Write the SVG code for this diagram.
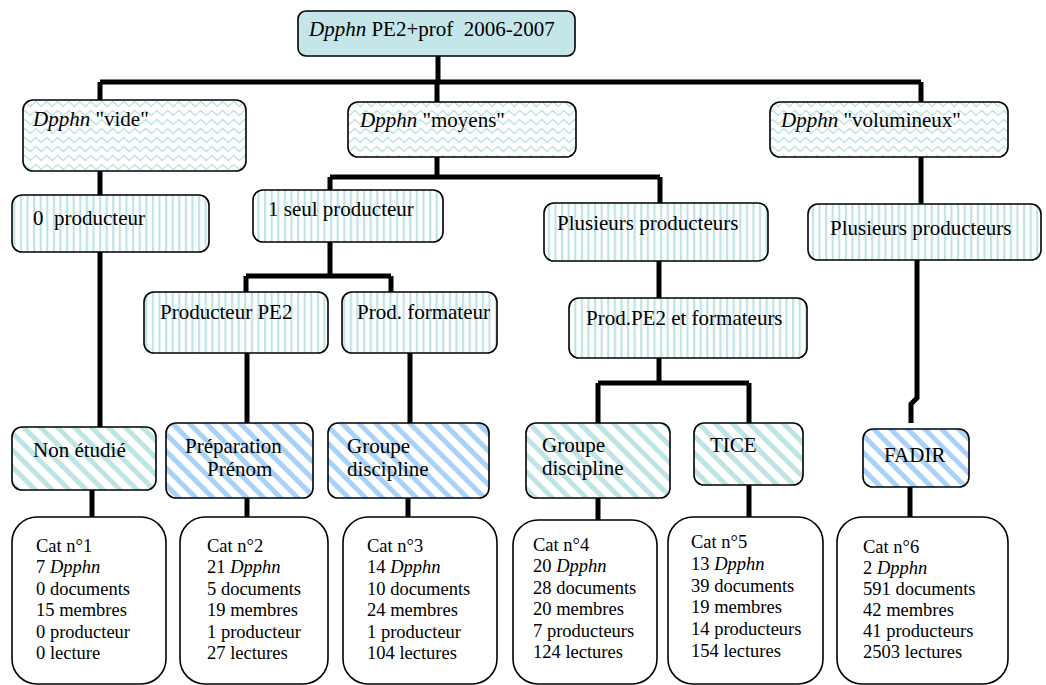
<svg xmlns="http://www.w3.org/2000/svg" width="1046" height="685" viewBox="0 0 1046 685" font-family="'Liberation Serif', 'Times New Roman', serif">
<style>
text{font-family:'Liberation Serif','Times New Roman',serif;fill:#000}
.t{font-size:21px}
.s{font-size:18.5px}
.box{stroke:#000;stroke-width:1.6}
.conn{stroke:#000;stroke-width:5;fill:none;stroke-linecap:butt;stroke-linejoin:miter}
</style>
<defs>
<pattern id="wave" patternUnits="userSpaceOnUse" width="11" height="9">
<rect width="11" height="9" fill="#fff"/>
<polyline points="0,5 2.75,2.5 5.5,5 8.25,7.5 11,5" fill="none" stroke="#bfe3e6" stroke-width="1.5"/>
</pattern>
<pattern id="vstripe" patternUnits="userSpaceOnUse" width="6.6" height="10">
<rect width="6.6" height="10" fill="#fff"/>
<rect x="0" width="2.2" height="10" fill="#bfe3e6"/>
</pattern>
<pattern id="dteal" patternUnits="userSpaceOnUse" width="12" height="12" patternTransform="rotate(-45)">
<rect width="12" height="12" fill="#fff"/>
<rect width="5" height="12" fill="#bfe4e6"/>
</pattern>
<pattern id="dblue" patternUnits="userSpaceOnUse" width="12" height="12" patternTransform="rotate(-45)">
<rect width="12" height="12" fill="#fff"/>
<rect width="5" height="12" fill="#a9d2fa"/>
</pattern>
</defs>
<rect width="1046" height="685" fill="#fff"/>

<g id="connectors" class="conn">
<path d="M438 56V82M100 82H921M100 82V100M437 82V102M921 82V102"/>
<path d="M100 171V195M100 252V427M92 490V517"/>
<path d="M437 157V177M330 177H660M330 177V190M660 177V203"/>
<path d="M330 242V276M246 276H391M246 276V292M391 276V292"/>
<path d="M247 353V423M410 353V423M247 498V517M408 498V517"/>
<path d="M659 261V298M659 358V383M598 383H749M598 383V423M749 383V423"/>
<path d="M598 498V520M749 485V517"/>
<path d="M921 157V204M917 260V398L911 404V423M910 487V517"/>
</g>

<g id="n-root"><rect class="box" x="298" y="11" width="277" height="45" rx="8" fill="#c4e6e9"/>
<text class="t" x="309" y="36"><tspan font-style="italic">Dpphn</tspan> PE2+prof&#160; 2006-2007</text></g>

<g id="n-vide"><rect class="box" x="23" y="100" width="223" height="71" rx="10" fill="url(#wave)"/>
<text class="t" x="33" y="126"><tspan font-style="italic">Dpphn</tspan> "vide"</text></g>
<g id="n-moyens"><rect class="box" x="348" y="102" width="228" height="55" rx="10" fill="url(#wave)"/>
<text class="t" x="360" y="127"><tspan font-style="italic">Dpphn</tspan> "moyens"</text></g>
<g id="n-volumineux"><rect class="box" x="770" y="102" width="238" height="55" rx="10" fill="url(#wave)"/>
<text class="t" x="781" y="127"><tspan font-style="italic">Dpphn</tspan> "volumineux"</text></g>

<g id="n-0prod"><rect class="box" x="12" y="195" width="197" height="57" rx="10" fill="url(#vstripe)"/>
<text class="t" x="33" y="225">0&#160; producteur</text></g>
<g id="n-1seul"><rect class="box" x="253" y="190" width="190" height="52" rx="10" fill="url(#vstripe)"/>
<text class="t" x="268" y="216">1 seul producteur</text></g>
<g id="n-plus-moy"><rect class="box" x="544" y="203" width="224" height="58" rx="10" fill="url(#vstripe)"/>
<text class="t" x="557" y="230">Plusieurs producteurs</text></g>
<g id="n-plus-vol"><rect class="box" x="808" y="204" width="233" height="56" rx="10" fill="url(#vstripe)"/>
<text class="t" x="830" y="235">Plusieurs producteurs</text></g>

<g id="n-prodpe2"><rect class="box" x="144" y="292" width="184" height="61" rx="10" fill="url(#vstripe)"/>
<text class="t" x="160" y="319">Producteur PE2</text></g>
<g id="n-prodform"><rect class="box" x="342" y="292" width="155" height="61" rx="10" fill="url(#vstripe)"/>
<text class="t" x="357" y="319">Prod. formateur</text></g>
<g id="n-pe2form"><rect class="box" x="569" y="298" width="238" height="60" rx="10" fill="url(#vstripe)"/>
<text class="t" x="586" y="325">Prod.PE2 et formateurs</text></g>

<g id="n-nonetudie"><rect class="box" x="12" y="427" width="144" height="63" rx="10" fill="url(#dteal)"/>
<text class="t" x="33" y="457">Non étudié</text></g>
<g id="n-prep"><rect class="box" x="166" y="423" width="147" height="75" rx="10" fill="url(#dblue)"/>
<text class="t" x="185" y="453">Préparation</text><text class="t" x="207" y="476">Prénom</text></g>
<g id="n-groupe3"><rect class="box" x="328" y="423" width="161" height="75" rx="10" fill="url(#dblue)"/>
<text class="t" x="347" y="453">Groupe</text><text class="t" x="347" y="476">discipline</text></g>
<g id="n-groupe4"><rect class="box" x="526" y="423" width="144" height="75" rx="10" fill="url(#dteal)"/>
<text class="t" x="542" y="452">Groupe</text><text class="t" x="542" y="475">discipline</text></g>
<g id="n-tice"><rect class="box" x="694" y="423" width="109" height="62" rx="10" fill="url(#dteal)"/>
<text class="t" x="710" y="452">TICE</text></g>
<g id="n-fadir"><rect class="box" x="863" y="429" width="106" height="58" rx="10" fill="url(#dblue)"/>
<text class="t" x="884" y="462">FADIR</text></g>

<g id="n-cat1"><rect class="box" x="12" y="517" width="154" height="167" rx="25" fill="#fff"/>
<text class="s" x="36" y="552">Cat n°1</text>
<text class="s" x="36" y="573.4">7 <tspan font-style="italic">Dpphn</tspan></text>
<text class="s" x="36" y="594.8">0 documents</text>
<text class="s" x="36" y="616.2">15 membres</text>
<text class="s" x="36" y="637.6">0 producteur</text>
<text class="s" x="36" y="659">0 lecture</text></g>
<g id="n-cat2"><rect class="box" x="180" y="517" width="148" height="167" rx="25" fill="#fff"/>
<text class="s" x="207" y="552">Cat n°2</text>
<text class="s" x="207" y="573.4">21 <tspan font-style="italic">Dpphn</tspan></text>
<text class="s" x="207" y="594.8">5 documents</text>
<text class="s" x="207" y="616.2">19 membres</text>
<text class="s" x="207" y="637.6">1 producteur</text>
<text class="s" x="207" y="659">27 lectures</text></g>
<g id="n-cat3"><rect class="box" x="343" y="517" width="154" height="167" rx="25" fill="#fff"/>
<text class="s" x="367" y="552">Cat n°3</text>
<text class="s" x="367" y="573.4">14 <tspan font-style="italic">Dpphn</tspan></text>
<text class="s" x="367" y="594.8">10 documents</text>
<text class="s" x="367" y="616.2">24 membres</text>
<text class="s" x="367" y="637.6">1 producteur</text>
<text class="s" x="367" y="659">104 lectures</text></g>
<g id="n-cat4"><rect class="box" x="513" y="520" width="144" height="164" rx="25" fill="#fff"/>
<text class="s" x="533" y="551">Cat n°4</text>
<text class="s" x="533" y="572.4">20 <tspan font-style="italic">Dpphn</tspan></text>
<text class="s" x="533" y="593.8">28 documents</text>
<text class="s" x="533" y="615.2">20 membres</text>
<text class="s" x="533" y="636.6">7 producteurs</text>
<text class="s" x="533" y="658">124 lectures</text></g>
<g id="n-cat5"><rect class="box" x="668" y="517" width="155" height="167" rx="25" fill="#fff"/>
<text class="s" x="691" y="548">Cat n°5</text>
<text class="s" x="691" y="569.8">13 <tspan font-style="italic">Dpphn</tspan></text>
<text class="s" x="691" y="591.6">39 documents</text>
<text class="s" x="691" y="613.4">19 membres</text>
<text class="s" x="691" y="635.2">14 producteurs</text>
<text class="s" x="691" y="657">154 lectures</text></g>
<g id="n-cat6"><rect class="box" x="837" y="517" width="171" height="167" rx="25" fill="#fff"/>
<text class="s" x="863" y="553">Cat n°6</text>
<text class="s" x="863" y="574">2 <tspan font-style="italic">Dpphn</tspan></text>
<text class="s" x="863" y="595">591 documents</text>
<text class="s" x="863" y="616">42 membres</text>
<text class="s" x="863" y="637">41 producteurs</text>
<text class="s" x="863" y="658">2503 lectures</text></g>
</svg>
